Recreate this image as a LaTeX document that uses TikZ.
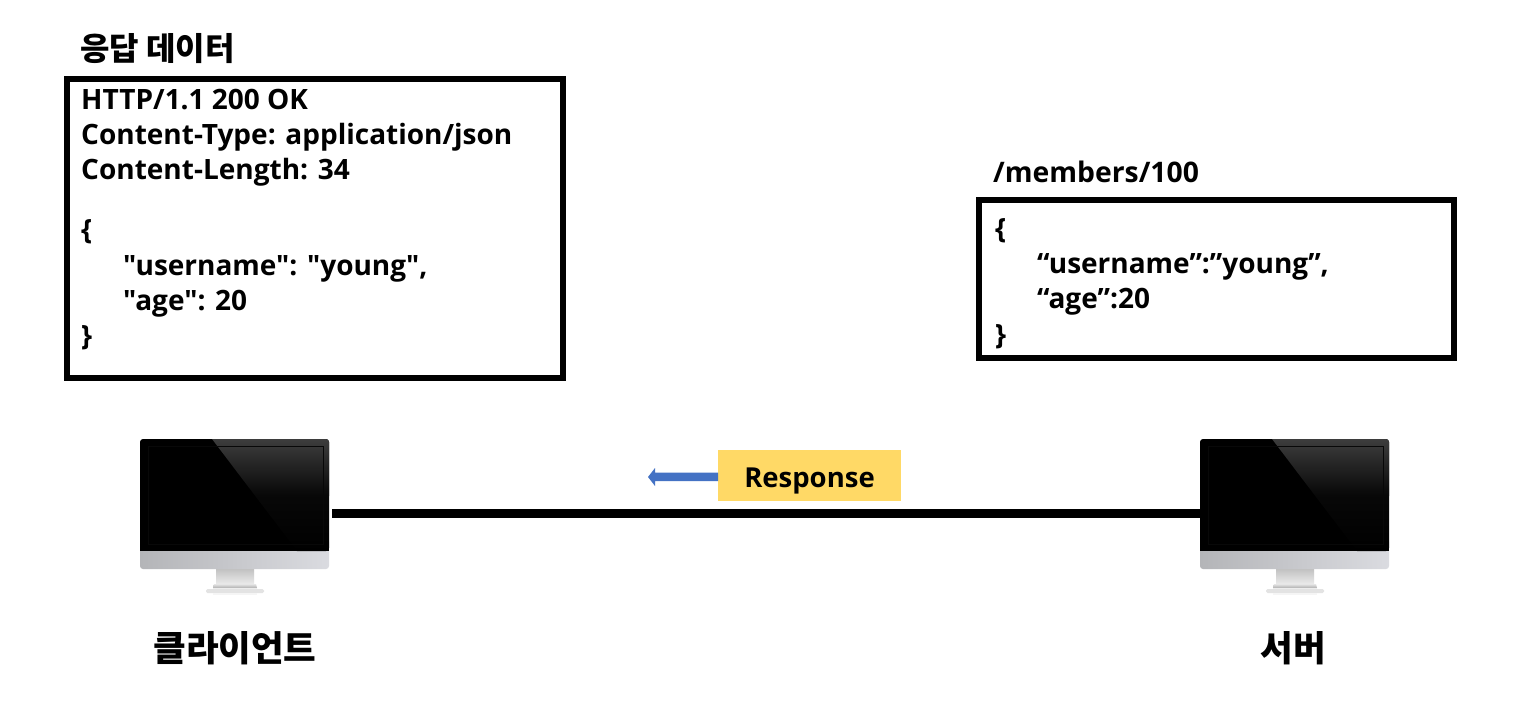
\documentclass[tikz,border=0pt]{standalone}
\usepackage{fontspec}
\setmainfont{Open Sans}
\newfontfamily\bodyfont{Open Sans}
\newfontfamily\krfont{Noto Sans CJK KR}
\definecolor{respyellow}{HTML}{FFD966}
\definecolor{respblue}{HTML}{4472C4}
\definecolor{chinleft}{HTML}{B4B5B8}
\definecolor{chinright}{HTML}{DADBE0}
\tikzset{
  databox/.style={draw=black,line width=5.5pt,fill=white},
  bodytext/.style={anchor=north west,align=left,inner sep=0pt,font=\fontsize{28}{35.3}\bodyfont\bfseries},
  krtitle/.style={inner sep=0pt,font=\fontsize{32}{36}\krfont\bfseries},
  krlabel/.style={inner sep=0pt,font=\fontsize{35.5}{40}\krfont\bfseries},
  hdrlabel/.style={inner sep=0pt,anchor=west,font=\fontsize{28.3}{35}\bodyfont\bfseries},
  monitorbox/.style={minimum width=189pt,minimum height=113pt,inner sep=0pt,outer sep=0pt},
  pics/imac/.style={code={
    % chin
    \shade[left color=chinleft,right color=chinright,rounded corners=3pt] (0,100) rectangle (189,130);
    \fill[black,rounded corners=3pt] (0,0) rectangle (189,60);
    \fill[black] (0,40) rectangle (189,112);
    % glare
    \begin{scope}
      \clip[rounded corners=3pt] (0,0) rectangle (189,112);
      \shade[shading angle=35,top color=black!76,bottom color=black,middle color=black!97] (72,0) -- (189,0) -- (189,112) -- (157,112) -- cycle;
    \end{scope}
    \draw[black!97,line width=0.5pt] (8,7) rectangle (183,105);
    % stand
    \shade[top color=black!24,bottom color=black!8] (76,130) rectangle (114,145);
    \shade[top color=black!10,bottom color=black!32] (74,145) -- (116,145) -- (117,149) -- (73,149) -- cycle;
    \fill[black!7] (73,149) rectangle (117,150);
    \fill[black!11,rounded corners=1.5pt] (66,150) rectangle (124,154);
    \fill[black!4] (73,154) rectangle (117,156);
  }}
}
\begin{document}
\begin{tikzpicture}[x=1pt,y=-1pt]
\useasboundingbox (0,0) rectangle (1520,702);
\fill[white] (0,0) rectangle (1520,702);
% left box
\node[krtitle,anchor=west] (lefttitle) at (80,49) {응답 데이터};
\draw[databox] (67,79) rectangle (563,378);
\node[bodytext] (lefttext) at (81,88.5) {HTTP/1.1 200 OK\\Content-Type: application/json\\Content-Length: 34\\[25pt]\{\\\hspace*{42pt}"username": "young",\\\hspace*{42pt}"age": 20\\\}};
% right box
\node[hdrlabel] (righttitle) at (993,172) {/members/100};
\draw[databox] (979,200) rectangle (1454,358);
\node[bodytext] (righttext) at (995,218) {\{\\\hspace*{42pt}“username”:”young”,\\\hspace*{42pt}“age”:20\\\}};
% monitors
\pic at (140,439) {imac};
\pic at (1200,439) {imac};
\node[monitorbox] (client) at (234.5,495.5) {};
\node[monitorbox] (server) at (1294.5,495.5) {};
\coordinate (linea) at (332,513.5);
\coordinate (lineb) at (server.west |- linea);
\draw[line width=9pt,black] (linea) -- (lineb);
% response
\node[fill=respyellow,minimum width=183pt,minimum height=51pt,inner sep=0pt,outer sep=0pt,font=\fontsize{27.5}{30}\bodyfont\bfseries] (resp) at (809.5,475.5) {\raisebox{-11.5pt}[0pt][0pt]{Response}};
\fill[respblue] (resp.west |- 0,472.5) -- (655,472.5) -- (655,468) -- (648,477) -- (655,486) -- (655,481.2) -- (resp.west |- 0,481.2) -- cycle;
% labels
\node[krlabel] (clientlabel) at (235,648) {클라이언트};
\node[krlabel] (serverlabel) at (1293,648) {서버};
\end{tikzpicture}
\end{document}
